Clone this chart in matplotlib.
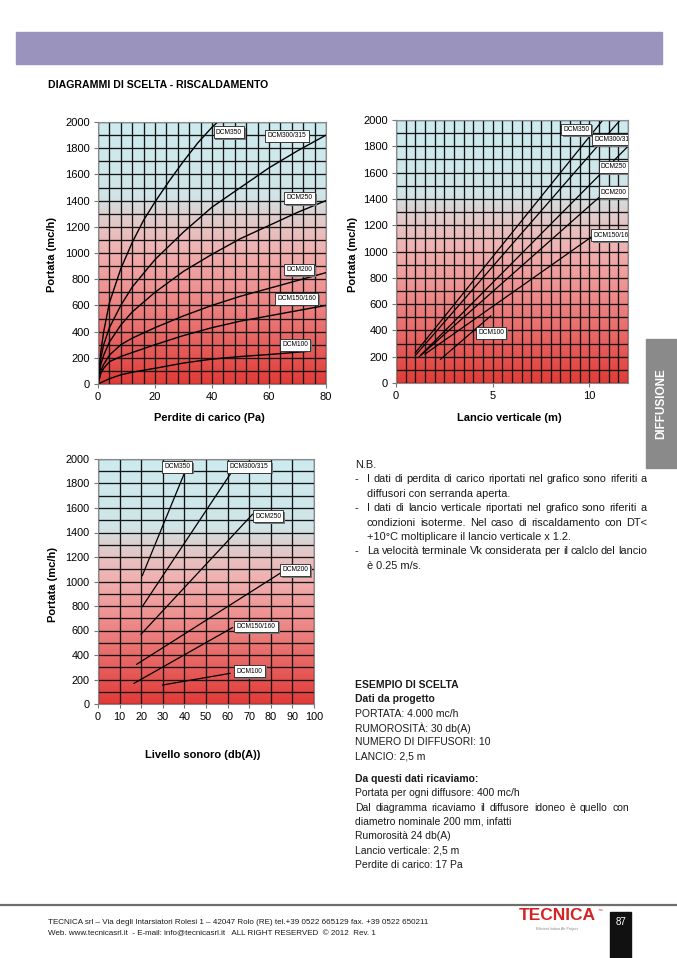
import numpy as np
import matplotlib
matplotlib.use('Agg')
import matplotlib.pyplot as plt
from matplotlib.colors import LinearSegmentedColormap
from matplotlib.patches import Rectangle

plt.rcParams['font.family'] = ['Liberation Sans', 'DejaVu Sans']

# ---- data ----
models = ['DCM350', 'DCM300/315', 'DCM250', 'DCM200', 'DCM150/160', 'DCM100']

# chart 1: pressure drop (Pa) vs flow (mc/h)
dp_350 = [0, 1, 2, 4, 8, 12, 16, 20, 25, 30, 35, 40, 42]
q_350 = [0, 250, 400, 620, 880, 1080, 1250, 1390, 1550, 1700, 1840, 1960, 2000]
dp_std = [0, 1, 2, 4, 8, 12, 20, 30, 40, 50, 60, 70, 80]
q_300 = [0, 200, 300, 430, 600, 740, 950, 1160, 1350, 1500, 1650, 1780, 1900]
q_250 = [0, 150, 220, 320, 450, 550, 700, 860, 990, 1110, 1210, 1310, 1400]
q_200 = [0, 100, 150, 220, 300, 350, 430, 520, 600, 670, 730, 790, 850]
q_150 = [0, 80, 120, 170, 210, 240, 300, 370, 430, 480, 520, 560, 600]
dp_100 = [0, 2, 4, 8, 12, 20, 30, 40, 50, 60, 74]
q_100 = [0, 20, 40, 70, 90, 120, 160, 190, 210, 225, 250]
lab1_x = [41.4, 59.5, 66.2, 66.0, 62.9, 64.6]
lab1_y = [1923, 1895, 1420, 873, 651, 299]

# chart 2: vertical throw (m) vs flow, start/end points
throw_x = [[1.0, 10.7], [1.0, 11.6], [1.3, 12.0], [1.2, 10.8], [1.5, 10.2], [2.3, 4.9]]
throw_q = [[230, 2000], [210, 2000], [215, 1800], [200, 1450], [220, 1120], [180, 510]]
lab2_x = [8.64, 10.26, 10.6, 10.6, 10.2, 4.25]
lab2_y = [1929, 1852, 1643, 1452, 1125, 382]

# chart 3: sound level db(A) vs flow, start/end points
noise_x = [[20.5, 40.6], [20.5, 62.2], [19.9, 71.5], [17.9, 85.0], [16.7, 62.2], [29.9, 61.1]]
noise_q = [[1048, 1910], [795, 1902], [569, 1548], [324, 1075], [169, 623], [155, 250]]
lab3_x = [30.6, 61.0, 72.7, 85.3, 64.2, 64.2]
lab3_y = [1937, 1937, 1532, 1094, 634, 269]

# notes: (bullet, text, justified)
nb_lines = [('', 'N.B.', False),
            ('-', 'I dati di perdita di carico riportati nel grafico sono riferiti a', True),
            ('', 'diffusori con serranda aperta.', False),
            ('-', 'I  dati di lancio verticale riportati nel grafico sono riferiti a', True),
            ('', 'condizioni isoterme. Nel caso di riscaldamento con  DT<', True),
            ('', '+10°C moltiplicare il lancio verticale x 1.2.', False),
            ('-', 'La velocità terminale Vk considerata per il calclo del lancio', True),
            ('', 'è 0.25 m/s.', False)]
ex_lines = [('ESEMPIO DI SCELTA', 'bold'), ('Dati da progetto', 'bold'),
            ('PORTATA: 4.000 mc/h', 'normal'), ('RUMOROSITÀ: 30 db(A)', 'normal'),
            ('NUMERO DI DIFFUSORI: 10', 'normal'), ('LANCIO: 2,5 m', 'normal')]
res_lines = [('Da questi dati ricaviamo:', 'bold'),
             ('Portata per ogni diffusore: 400 mc/h', 'normal'),
             ('Dal diagramma ricaviamo il diffusore idoneo è quello con', 'normal'),
             ('diametro nominale 200 mm, infatti', 'normal'),
             ('Rumorosità 24 db(A)', 'normal'),
             ('Lancio verticale: 2,5 m', 'normal'),
             ('Perdite di carico: 17 Pa', 'normal')]

W, H = 677, 958
fig = plt.figure(figsize=(W / 100, H / 100), dpi=100)

bg = LinearSegmentedColormap.from_list('bg', [
    (0.0, '#e23b37'), (0.15, '#e65f5d'), (0.35, '#ee8f8f'), (0.5, '#f1afaf'),
    (0.6, '#e6c3c3'), (0.67, '#d9d5d5'), (0.72, '#d0e5e8'), (1.0, '#cdebef')])


def px_axes(left, top, right, bottom):
    return fig.add_axes([left / W, 1 - bottom / H, (right - left) / W, (bottom - top) / H])


def setup(ax, xmax, xgrid, xticks, fs):
    grad = np.linspace(0, 1, 256).reshape(-1, 1)
    ax.imshow(grad, cmap=bg, extent=[0, xmax, 0, 2000], aspect='auto',
              origin='lower', zorder=0)
    ax.set_xlim(0, xmax)
    ax.set_ylim(0, 2000)
    ax.set_xticks(xticks)
    ax.set_yticks(np.arange(0, 2001, 200))
    ax.set_xticks(np.arange(0, xmax + 0.01, xgrid), minor=True)
    ax.set_yticks(np.arange(0, 2001, 100), minor=True)
    ax.grid(which='both', color='#151515', lw=0.95, zorder=1)
    ax.tick_params(which='minor', length=0)
    ax.tick_params(which='major', length=3, color='#777777', labelsize=fs, pad=3)
    for s in ax.spines.values():
        s.set_color('#8a8a8a')
        s.set_linewidth(0.8)


def box(ax, txt, x, y, clip=True):
    ax.annotate(txt, (x, y), xytext=(1.3, -1.3), textcoords='offset points',
                fontsize=4.8, color=(0, 0, 0, 0), va='center', ha='left', zorder=3,
                bbox=dict(boxstyle='square,pad=0.35', fc='#777777', ec='none'),
                annotation_clip=False, clip_on=clip)
    ax.text(x, y, txt, fontsize=4.8, va='center', ha='left', zorder=4,
            bbox=dict(boxstyle='square,pad=0.35', fc='white', ec='#222222', lw=0.6),
            clip_on=clip)


# chart 1
ax1 = px_axes(98, 122, 326, 384)
setup(ax1, 80, 4, [0, 20, 40, 60, 80], 8)
ax1.plot(dp_350, q_350, color='black', lw=1.0, zorder=2)
for q in [q_300, q_250, q_200, q_150]:
    ax1.plot(dp_std, q, color='black', lw=1.0, zorder=2)
ax1.plot(dp_100, q_100, color='black', lw=1.0, zorder=2)
for m, x, y in zip(models, lab1_x, lab1_y):
    box(ax1, m, x, y)

# chart 2
ax2 = px_axes(396, 120, 628, 383)
setup(ax2, 12, 0.5, [0, 5, 10], 8)
for xs, qs in zip(throw_x, throw_q):
    ax2.plot(xs, qs, color='black', lw=0.9, zorder=2)
for m, x, y in zip(models, lab2_x, lab2_y):
    box(ax2, m, x, y)

# chart 3
ax3 = px_axes(98, 459, 314, 704)
setup(ax3, 100, 10, np.arange(0, 101, 10), 7.8)
for xs, qs in zip(noise_x, noise_q):
    ax3.plot(xs, qs, color='black', lw=0.9, zorder=2)
for m, x, y in zip(models, lab3_x, lab3_y):
    box(ax3, m, x, y, clip=False)


def ftext(x, y, s, **kw):
    return fig.text(x / W, 1 - y / H, s, **kw)


def justify(x0, x1, y, s, **kw):
    # spread words evenly between x0 and x1 (pixels)
    words = s.split()
    texts = [ftext(x0, y, w, **kw) for w in words]
    r = fig.canvas.get_renderer()
    widths = [t.get_window_extent(r).width for t in texts]
    gap = (x1 - x0 - sum(widths)) / (len(words) - 1)
    x = x0
    for t, w in zip(texts, widths):
        t.set_x(x / W)
        x += w + gap


lab_kw = dict(fontsize=8, fontweight='bold', ha='center', va='center')
ftext(52, 255, 'Portata (mc/h)', rotation=90, **lab_kw)
ftext(209, 418, 'Perdite di carico (Pa)', **lab_kw)
ftext(353, 255, 'Portata (mc/h)', rotation=90, **lab_kw)
ftext(509, 418, 'Lancio verticale (m)', **lab_kw)
ftext(53, 585, 'Portata (mc/h)', rotation=90, **lab_kw)
ftext(203, 755, 'Livello sonoro (db(A))', **lab_kw)


def frect(x0, y0, x1, y1, color):
    fig.patches.append(Rectangle((x0 / W, 1 - y1 / H), (x1 - x0) / W, (y1 - y0) / H,
                                 transform=fig.transFigure, color=color, zorder=0))


# page decorations
frect(16, 32, 662, 64, '#9a93bd')
ftext(48, 85, 'DIAGRAMMI DI SCELTA - RISCALDAMENTO', fontsize=7.6, fontweight='bold', va='center')
frect(646, 339, 677, 468, '#8a8a8a')
ftext(661, 404, 'DIFFUSIONE', rotation=90, color='white', fontsize=8.5,
      fontweight='bold', ha='center', va='center')

nb = dict(fontsize=7.9, va='center', color='#1a1a1a')
for i, (bullet, s, just) in enumerate(nb_lines):
    y = 465 + i * 14.4
    if i == 0:
        ftext(355, y, s, **nb)
        continue
    if bullet:
        ftext(355, y, bullet, **nb)
    if just:
        justify(367, 647, y, s, **nb)
    else:
        ftext(367, y, s, **nb)

body = dict(fontsize=7.5, va='center', color='#1a1a1a')
for i, (s, w) in enumerate(ex_lines):
    ftext(355, 685 + i * 14.3, s, fontweight=w, **body)
for i, (s, w) in enumerate(res_lines):
    y = 779 + i * 14.3
    if i == 2:
        justify(355, 629, y, s, fontweight=w, **body)
    else:
        ftext(355, y, s, fontweight=w, **body)

# footer
fig.add_artist(plt.Line2D([0, 1], [1 - 905 / H, 1 - 905 / H], transform=fig.transFigure,
                          color='#6e6e6e', lw=1.6))
foot = dict(fontsize=5.8, va='center', color='#1a1a1a')
ftext(48, 922, 'TECNICA srl – Via degli Intarsiatori Rolesi 1 – 42047 Rolo (RE) '
      'tel.+39 0522 665129 fax. +39 0522 650211', **foot)
ftext(48, 934, 'Web. www.tecnicasrl.it  - E-mail: info@tecnicasrl.it   ALL RIGHT RESERVED  '
      '© 2012  Rev. 1', **foot)
ftext(557, 916, 'TECNICA', fontsize=12.5, fontweight='heavy', color='#d62222',
      ha='center', va='center')
ftext(598, 910, '™', fontsize=3.5, color='#d62222', ha='left', va='center')
ftext(557, 929, 'Efficient Indoor Air Project', fontsize=2.6, color='#888888',
      ha='center', va='center')
frect(610, 912, 631, 958, '#111111')
ftext(620.5, 922, '87', fontsize=7, color='white', ha='center', va='center')

fig.savefig('out.png', dpi=100)
